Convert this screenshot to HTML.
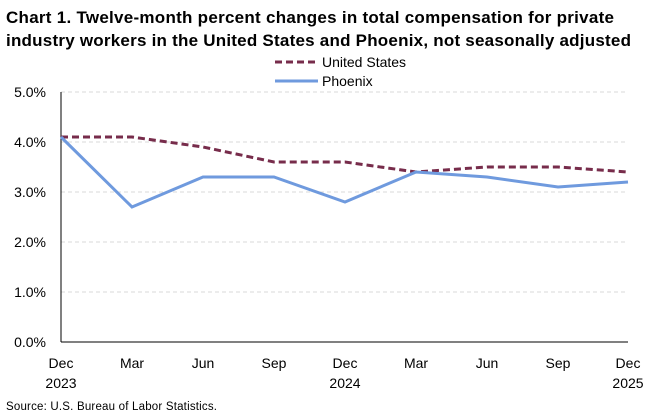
<!DOCTYPE html>
<html><head><style>
body{margin:0;background:#fff;}
svg text{font-family:"Liberation Sans",Arial,sans-serif;}
</style></head><body>
<svg width="668" height="413" xmlns="http://www.w3.org/2000/svg">
<text x="6" y="23" font-size="17" font-weight="bold" fill="#000" textLength="608">Chart 1. Twelve-month percent changes in total compensation for private</text>
<text x="6" y="46" font-size="17" font-weight="bold" fill="#000" textLength="625">industry workers in the United States and Phoenix, not seasonally adjusted</text>
<line x1="275" y1="62" x2="318" y2="62" stroke="#772c4b" stroke-width="3" stroke-dasharray="7,4"/>
<text x="322" y="67" font-size="14">United States</text>
<line x1="275" y1="81" x2="318" y2="81" stroke="#6f9ade" stroke-width="3"/>
<text x="322" y="86" font-size="14">Phoenix</text>
<g stroke="#d9d9d9" stroke-dasharray="4,3" stroke-width="1">
<line x1="61" y1="92" x2="628" y2="92"/><line x1="61" y1="142" x2="628" y2="142"/>
<line x1="61" y1="192" x2="628" y2="192"/><line x1="61" y1="242" x2="628" y2="242"/>
<line x1="61" y1="292" x2="628" y2="292"/>
</g>
<line x1="61" y1="92" x2="61" y2="342" stroke="#000" stroke-width="1"/>
<line x1="61" y1="342" x2="628" y2="342" stroke="#000" stroke-width="1"/>
<g font-size="14" text-anchor="end">
<text x="46" y="97">5.0%</text><text x="46" y="147">4.0%</text><text x="46" y="197">3.0%</text>
<text x="46" y="247">2.0%</text><text x="46" y="297">1.0%</text><text x="46" y="347">0.0%</text>
</g>
<g font-size="14" text-anchor="middle">
<text x="61" y="368">Dec</text><text x="61" y="388">2023</text>
<text x="132" y="368">Mar</text><text x="203" y="368">Jun</text><text x="274" y="368">Sep</text>
<text x="345" y="368">Dec</text><text x="345" y="388">2024</text>
<text x="416" y="368">Mar</text><text x="487" y="368">Jun</text><text x="558" y="368">Sep</text>
<text x="628" y="368">Dec</text><text x="628" y="388">2025</text>
</g>
<polyline fill="none" stroke="#772c4b" stroke-width="3" stroke-dasharray="7,4" points="61,137 132,137 203,147 274,162 345,162 416,172 487,167 558,167 628,172"/>
<polyline fill="none" stroke="#6f9ade" stroke-width="3" points="61,137 132,207 203,177 274,177 345,202 416,172 487,177 558,187 628,182"/>
<text x="6" y="410" font-size="11.5" textLength="211">Source: U.S. Bureau of Labor Statistics.</text>
</svg>
</body></html>
